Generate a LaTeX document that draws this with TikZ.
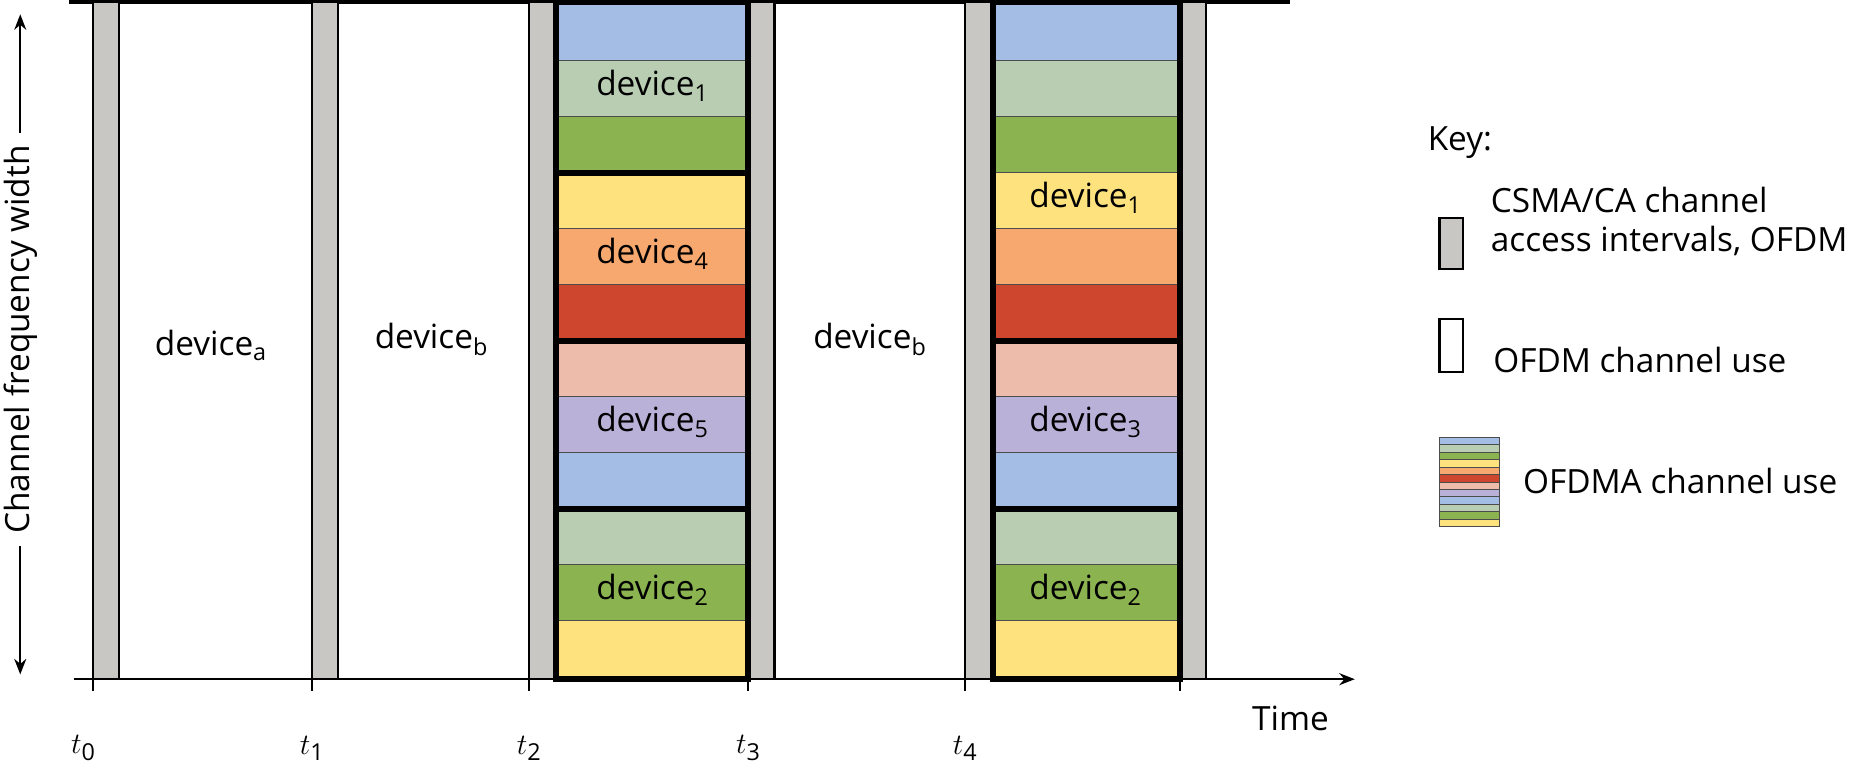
\documentclass[tikz,border=0pt]{standalone}
\usepackage{fontspec}
\setmainfont{Open Sans}
\usetikzlibrary{arrows.meta}
\definecolor{cblue}{HTML}{A4BDE4}
\definecolor{clgreen}{HTML}{B9CDB3}
\definecolor{cgreen}{HTML}{8BB450}
\definecolor{cyellow}{HTML}{FEE27E}
\definecolor{corange}{HTML}{F6A86E}
\definecolor{cred}{HTML}{CE462E}
\definecolor{cpink}{HTML}{EEBCAA}
\definecolor{clav}{HTML}{BAB1D9}
\definecolor{cgray}{HTML}{C8C7C3}
\begin{document}
\begin{tikzpicture}[x=1pt,y=-1pt,
  txt/.style={font=\fontsize{28}{33}\selectfont,inner sep=0pt},
  gbar/.style={fill=cgray,draw=black,line width=1.8pt},
  strip/.style={draw=black!70,line width=0.8pt},
  thick line/.style={line width=5pt},
  tick/.style={line width=1.8pt},
  arr/.style={line width=2pt,-{Stealth[length=13pt,width=10pt]}}]
\useasboundingbox (0,0) rectangle (1566,647);
% axes
\draw[line width=3.5pt] (58,2) -- (1083,2);
\draw[arr] (62,570) -- (1137,570);
\foreach \x in {78,262,444,628,810,990} \draw[tick] (\x,570) -- (\x,580);
% gray bars
\foreach \x in {78,262,444,628,810,990} \draw[gbar] (\x,2) rectangle (\x+22,570);
% OFDMA blocks
\def\cols{{"cblue","clgreen","cgreen","cyellow","corange","cred","cpink","clav","cblue","clgreen","cgreen","cyellow"}}
\foreach \bx/\bw in {467/161,833/157}{
  \foreach \i in {0,...,11}{
    \pgfmathsetmacro\ya{4+\i*47}
    \pgfmathsetmacro\yb{4+(\i+1)*47}
    \pgfmathparse{\cols[\i]}\edef\cc{\pgfmathresult}
    \draw[strip,fill=\cc] (\bx,\ya) rectangle (\bx+\bw,\yb);
  }
  \draw[thick line] (\bx,286) -- (\bx+\bw,286);
  \draw[thick line] (\bx,427) -- (\bx+\bw,427);
  \draw[thick line] (\bx,2) rectangle (\bx+\bw,570);
}
\draw[thick line] (467,145) -- (628,145);
% labels in blocks
\node[txt] (d1) at (547.5,72) {device$_{\mathrm{1}}$};
\node[txt] (d4) at (547.5,213) {device$_{\mathrm{4}}$};
\node[txt] (d5) at (547.5,354) {device$_{\mathrm{5}}$};
\node[txt] (d2) at (547.5,495) {device$_{\mathrm{2}}$};
\node[txt] (e1) at (911,166) {device$_{\mathrm{1}}$};
\node[txt] (e3) at (911,354) {device$_{\mathrm{3}}$};
\node[txt] (e2) at (911,495) {device$_{\mathrm{2}}$};
\node[txt] (da) at (177,290) {device$_{\mathrm{a}}$};
\node[txt] (db) at (362,285) {device$_{\mathrm{b}}$};
\node[txt] (db2) at (730,285) {device$_{\mathrm{b}}$};
% time labels
\foreach \x/\n in {70/0,262/1,444/2,628/3,810/4}
  \node[txt] (t\n) at (\x,628) {$t_{\mathrm{\n}}$};
\node[txt] (time) at (1083,603) {Time};
% vertical axis
\node[txt,rotate=90] (cfw) at (17,285) {Channel frequency width};
\coordinate (vt) at (17,12);
\coordinate (vb) at (17,566);
\draw[arr] (cfw.east) ++(0,-10) -- (vt);
\draw[arr] (cfw.west) ++(0,10) -- (vb);
% key
\node[txt,anchor=west] (key) at (1198,120) {Key:};
\draw[gbar] (1208,183) rectangle (1228,226);
\node[txt,anchor=north west,align=left] (k1) at (1251,157) {CSMA/CA channel\\access intervals, OFDM};
\draw[line width=1.8pt,fill=white] (1208,268) rectangle (1228,312);
\node[txt,anchor=west] (k2) at (1253,302) {OFDM channel use};
\foreach \i in {0,...,11}{
  \pgfmathsetmacro\ya{367+\i*6.25}
  \pgfmathsetmacro\yb{367+(\i+1)*6.25}
  \pgfmathparse{\cols[\i]}\edef\cc{\pgfmathresult}
  \draw[draw=black!70,line width=0.7pt,fill=\cc] (1208,\ya) rectangle (1258,\yb);
}
\node[txt,anchor=west] (k3) at (1278,404) {OFDMA channel use};
\end{tikzpicture}
\end{document}
